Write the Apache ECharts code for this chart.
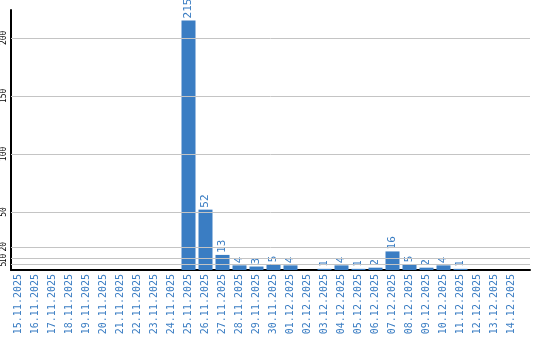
<!DOCTYPE html>
<html>
<head>
<meta charset="utf-8">
<script src="https://cdn.jsdelivr.net/npm/echarts@6/dist/echarts.min.js"></script>
<style>
html,body{margin:0;padding:0;background:#fff;}
#c{width:540px;height:340px;}
</style>
</head>
<body>
<div id="c"></div>
<script>
var categories = ['15.11.2025','16.11.2025','17.11.2025','18.11.2025','19.11.2025','20.11.2025','21.11.2025','22.11.2025','23.11.2025','24.11.2025','25.11.2025','26.11.2025','27.11.2025','28.11.2025','29.11.2025','30.11.2025','01.12.2025','02.12.2025','03.12.2025','04.12.2025','05.12.2025','06.12.2025','07.12.2025','08.12.2025','09.12.2025','10.12.2025','11.12.2025','12.12.2025','13.12.2025','14.12.2025'];
var values = [0,0,0,0,0,0,0,0,0,0,215,52,13,4,3,5,4,0,1,4,1,2,16,5,2,4,1,0,0,0];
var yTicks = [5,10,20,50,100,150,200];

var blue = '#3a7dc3';
var chart = echarts.init(document.getElementById('c'));
chart.setOption({
  animation: false,
  grid: [
    {left: 10, top: 10, width: 520, height: 260},
    {left: 10, top: 10, width: 510, height: 260}
  ],
  xAxis: [
    {type: 'value', gridIndex: 0, min: 0, max: 1,
     axisLine: {show: true, onZero: false, lineStyle: {color: '#000', width: 2}},
     axisTick: {show: false}, axisLabel: {show: false}, splitLine: {show: false}},
    {type: 'category', gridIndex: 1, data: categories,
     axisLine: {show: false}, axisTick: {show: false}, splitLine: {show: false},
     axisLabel: {interval: 0, rotate: 90, margin: 4, color: blue,
       fontFamily: 'DejaVu Sans Mono', fontSize: 10}}
  ],
  yAxis: [
    {type: 'value', gridIndex: 0, min: 0, max: 224, interval: 5,
     axisLine: {show: true, lineStyle: {color: '#000', width: 2}},
     axisTick: {show: false}, splitLine: {show: false},
     axisLabel: {rotate: 90, margin: 3, color: '#000', fontFamily: 'DejaVu Sans Mono', fontSize: 8,
       hideOverlap: false,
       formatter: function (v) { return yTicks.indexOf(v) >= 0 ? String(v) : ''; }}},
    {type: 'value', gridIndex: 1, min: 0, max: 224, show: false}
  ],
  series: [
    {type: 'line', xAxisIndex: 0, yAxisIndex: 0, data: [], z: 1, silent: true,
     markLine: {silent: true, symbol: ['none','none'], label: {show: false},
       lineStyle: {color: '#c4c4c4', type: 'solid', width: 1},
       data: yTicks.map(function (t) { return {yAxis: t}; })}},
    {type: 'bar', xAxisIndex: 1, yAxisIndex: 1, data: values, barWidth: 14, z: 3,
     itemStyle: {color: blue},
     label: {show: true, position: 'top', rotate: 90, align: 'left', verticalAlign: 'middle',
       distance: 2, color: blue, fontFamily: 'DejaVu Sans Mono', fontSize: 11,
       formatter: function (p) { return p.value ? String(p.value) : ''; }}}
  ]
});
</script>
</body>
</html>
